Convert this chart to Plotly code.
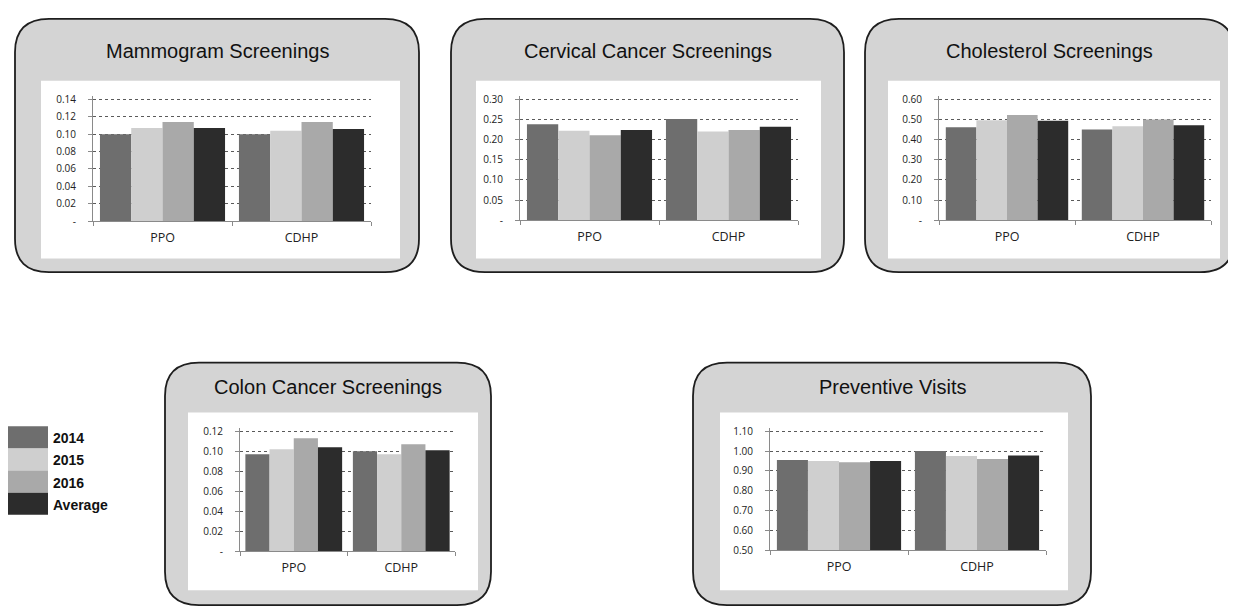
import plotly.graph_objects as go

W, H = 1236, 608

# ---------------- data ----------------
groups = ["PPO", "CDHP"]
series_names = ["2014", "2015", "2016", "Average"]
series_colors = ["#6e6e6e", "#cfcfcf", "#a9a9a9", "#2c2c2c"]

panel_titles = ["Mammogram Screenings", "Cervical Cancer Screenings",
                "Cholesterol Screenings", "Colon Cancer Screenings",
                "Preventive Visits"]

# rows: 2014, 2015, 2016, Average ; columns: PPO, CDHP
mammogram_values = [[0.100, 0.100], [0.107, 0.104], [0.114, 0.114], [0.107, 0.106]]
cervical_values = [[0.238, 0.251], [0.222, 0.220], [0.211, 0.224], [0.224, 0.232]]
cholesterol_values = [[0.462, 0.450], [0.497, 0.466], [0.523, 0.500], [0.494, 0.472]]
colon_values = [[0.097, 0.100], [0.102, 0.097], [0.113, 0.107], [0.104, 0.101]]
preventive_values = [[0.955, 1.000], [0.950, 0.975], [0.943, 0.960], [0.950, 0.978]]

mammogram_ticks = [0, 0.02, 0.04, 0.06, 0.08, 0.10, 0.12, 0.14]
mammogram_ticktext = ["-", "0.02", "0.04", "0.06", "0.08", "0.10", "0.12", "0.14"]
cervical_ticks = [0, 0.05, 0.10, 0.15, 0.20, 0.25, 0.30]
cervical_ticktext = ["-", "0.05", "0.10", "0.15", "0.20", "0.25", "0.30"]
cholesterol_ticks = [0, 0.10, 0.20, 0.30, 0.40, 0.50, 0.60]
cholesterol_ticktext = ["-", "0.10", "0.20", "0.30", "0.40", "0.50", "0.60"]
colon_ticks = [0, 0.02, 0.04, 0.06, 0.08, 0.10, 0.12]
colon_ticktext = ["-", "0.02", "0.04", "0.06", "0.08", "0.10", "0.12"]
preventive_ticks = [0.50, 0.60, 0.70, 0.80, 0.90, 1.00, 1.10]
preventive_ticktext = ["0.50", "0.60", "0.70", "0.80", "0.90", "1.00", "1.10"]

panel_values = [mammogram_values, cervical_values, cholesterol_values,
                colon_values, preventive_values]
panel_ticks = [mammogram_ticks, cervical_ticks, cholesterol_ticks,
               colon_ticks, preventive_ticks]
panel_ticktext = [mammogram_ticktext, cervical_ticktext, cholesterol_ticktext,
                  colon_ticktext, preventive_ticktext]

# ---------------- layout geometry (pixels) ----------------
# box(x0,x1,y0,y1), white(x0,x1,y0,y1), plot(x0,x1,ytop,ybase), title y
geom = [
    dict(box=(7, 411, 7, 265), white=(33, 392, 70, 251), plot=(85, 363, 89, 213), ty=40),
    dict(box=(443, 836, 7, 265), white=(468, 813, 70, 251), plot=(512, 790, 89, 212), ty=40),
    dict(box=(857, 1226, 7, 265), white=(880, 1212, 70, 251), plot=(931, 1203, 89, 212), ty=40),
    dict(box=(157, 483, 357, 604), white=(180, 470, 408, 589), plot=(232, 447, 427, 549), ty=382),
    dict(box=(685, 1083, 357, 604), white=(712, 1060, 408, 589), plot=(762, 1038, 427, 548), ty=382),
]

EXT = 0.03  # small headroom so the top gridline is drawn


def px(x):
    return x / W


def py(y):
    return 1 - y / H


def rrect(x0, x1, y0, y1, r):
    def P(x, y):
        return f"{px(x):.5f},{py(y):.5f}"
    return (f"M {P(x0 + r, y0)} L {P(x1 - r, y0)} Q {P(x1, y0)} {P(x1, y0 + r)} "
            f"L {P(x1, y1 - r)} Q {P(x1, y1)} {P(x1 - r, y1)} "
            f"L {P(x0 + r, y1)} Q {P(x0, y1)} {P(x0, y1 - r)} "
            f"L {P(x0, y0 + r)} Q {P(x0, y0)} {P(x0 + r, y0)} Z")


fig = go.Figure()
shapes = []
annotations = []
layout_axes = {}

for i, g in enumerate(geom):
    idx = i + 1
    xa = "x" if idx == 1 else f"x{idx}"
    ya = "y" if idx == 1 else f"y{idx}"
    for s, name in enumerate(series_names):
        fig.add_trace(go.Bar(
            x=groups, y=panel_values[i][s], name=name,
            marker=dict(color=series_colors[s], line=dict(width=0)),
            xaxis=xa, yaxis=ya, showlegend=False,
        ))
    bx0, bx1, by0, by1 = g["box"]
    shapes.append(dict(type="path", path=rrect(bx0, bx1, by0, by1, 34),
                       xref="paper", yref="paper", layer="below",
                       fillcolor="#d4d4d4", line=dict(color="#1e1e1e", width=1.8)))
    wx0, wx1, wy0, wy1 = g["white"]
    shapes.append(dict(type="rect", x0=px(wx0), x1=px(wx1), y0=py(wy1), y1=py(wy0),
                       xref="paper", yref="paper", layer="below",
                       fillcolor="#ffffff", line=dict(width=0)))
    annotations.append(dict(text=panel_titles[i], x=px((bx0 + bx1) / 2), y=py(g["ty"]),
                            xref="paper", yref="paper", showarrow=False,
                            xanchor="center", yanchor="middle",
                            font=dict(family="Liberation Sans, Arial", size=20, color="#111111")))
    qx0, qx1, qt, qb = g["plot"]
    ticks = panel_ticks[i]
    span = ticks[-1] - ticks[0]
    extra_px = EXT * (qb - qt)
    layout_axes["xaxis" if idx == 1 else f"xaxis{idx}"] = dict(
        domain=[px(qx0), px(qx1)], anchor=ya, type="category",
        showline=True, linecolor="#8a8a8a", linewidth=1,
        ticks="outside", tickson="boundaries", ticklen=4, tickcolor="#8a8a8a",
        showgrid=False, zeroline=False, fixedrange=True,
        tickfont=dict(family="Open Sans, Liberation Sans", size=12.5, color="#222222"),
        ticklabelstandoff=5,
    )
    layout_axes["yaxis" if idx == 1 else f"yaxis{idx}"] = dict(
        domain=[py(qb), py(qt - extra_px)], anchor=xa,
        range=[ticks[0], ticks[-1] + span * EXT], tickvals=ticks, ticktext=panel_ticktext[i],
        showline=True, linecolor="#8a8a8a", linewidth=1,
        ticks="outside", ticklen=4, tickcolor="#8a8a8a",
        showgrid=True, gridcolor="#5a5a5a", gridwidth=1, griddash="dot",
        zeroline=False, fixedrange=True,
        tickfont=dict(family="Open Sans, Liberation Sans", size=10, color="#222222"),
        ticklabelstandoff=10,
    )

# ---------------- legend (left) ----------------
leg_y0 = 422
row_h = 22.5
for s, name in enumerate(series_names):
    y0 = leg_y0 + s * row_h
    shapes.append(dict(type="rect", x0=px(0), x1=px(40), y0=py(y0 + row_h), y1=py(y0),
                       xref="paper", yref="paper", layer="below",
                       fillcolor=series_colors[s], line=dict(width=0)))
    annotations.append(dict(text=f"<b>{name}</b>", x=px(43), y=py(y0 + row_h / 2 + 1),
                            xref="paper", yref="paper", showarrow=False,
                            xanchor="left", yanchor="middle",
                            font=dict(family="Liberation Sans, Arial", size=14, color="#111111")))

fig.update_layout(
    width=W, height=H, margin=dict(l=0, r=0, t=0, b=0),
    paper_bgcolor="#ffffff", plot_bgcolor="rgba(0,0,0,0)",
    barmode="group", bargap=0.1, bargroupgap=0,
    shapes=shapes, annotations=annotations, showlegend=False,
    **layout_axes,
)

fig.write_html("out.html")
